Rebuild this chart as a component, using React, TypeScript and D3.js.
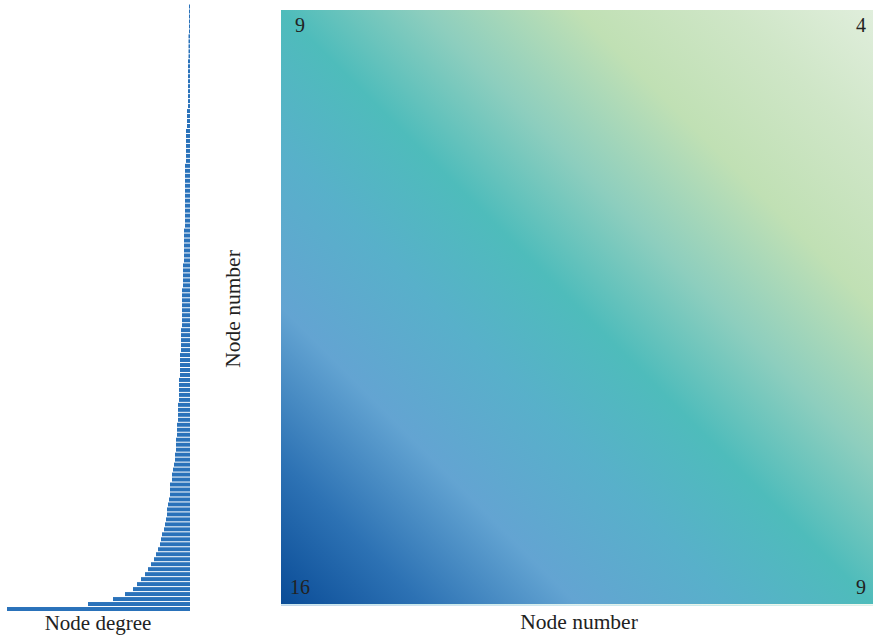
import React from "react";
import * as d3 from "d3";

// Node degrees, sorted (top row -> bottom row)
const degrees: number[] = [
  1, 1, 1, 1, 1, 1,
  1.5, 1.5, 1.5, 1.5, 1.5,
  2, 2, 2, 2, 2, 2, 2, 2, 2, 2,
  3, 3, 3, 3,
  4, 4, 4, 4, 4, 4, 4,
  5, 5, 5, 5, 5, 5, 5, 5, 5, 5, 5, 5, 5,
  6, 6, 6, 6, 6, 6, 6,
  7, 7, 7, 7, 7,
  8, 8, 8, 8, 8, 8, 8, 8,
  9, 9, 9, 9, 9,
  10, 10, 10, 10, 10,
  11, 11, 11, 11, 11,
  12, 12, 12, 12,
  13, 13, 13,
  14, 14, 14,
  15, 15,
  16,
  17, 18, 18,
  20, 20, 20, 21,
  22, 23, 23,
  24, 25, 26, 28, 29, 30, 32, 34, 36, 39, 42, 45, 49, 53, 57, 65, 77, 102, 183,
];

// Corner values of the node-number matrix
const cornerLabels = [
  { pos: "tl", value: "9" },
  { pos: "tr", value: "4" },
  { pos: "bl", value: "16" },
  { pos: "br", value: "9" },
];

// Colour ramp along the anti-diagonal (high value -> low value)
const rampStops: [number, string][] = [
  [0, "#0a4c97"],
  [0.12, "#2d72b4"],
  [0.25, "#63a4d2"],
  [0.38, "#58b0ca"],
  [0.5, "#4ebcbb"],
  [0.62, "#8dcebe"],
  [0.75, "#c0e0b4"],
  [0.88, "#cfe6c7"],
  [1, "#e0eedc"],
];

const W = 873;
const H = 636;
const font = "'Liberation Serif', 'DejaVu Serif', serif";

export default function App() {
  const barRight = 190;
  const x = d3.scaleLinear().domain([0, d3.max(degrees)!]).range([barRight, 7]);
  const y = d3
    .scaleBand<number>()
    .domain(degrees.map((_, i) => i))
    .range([4.5, 611])
    .paddingInner(0.2)
    .paddingOuter(0);

  const hm = { x0: 281, y0: 10, x1: 873, y1: 604 };

  const labelPos = (p: string) => {
    switch (p) {
      case "tl":
        return { x: hm.x0 + 19, y: hm.y0 + 22 };
      case "tr":
        return { x: hm.x1 - 12, y: hm.y0 + 22 };
      case "bl":
        return { x: hm.x0 + 19, y: hm.y1 - 10 };
      default:
        return { x: hm.x1 - 12, y: hm.y1 - 10 };
    }
  };

  return (
    <svg
      width={W}
      height={H}
      style={{ position: "absolute", left: 0, top: 0, background: "#fff" }}
    >
      <defs>
        <linearGradient id="ramp" x1="0" y1="1" x2="1" y2="0">
          {rampStops.map(([o, c], i) => (
            <stop key={i} offset={o} stopColor={c} />
          ))}
        </linearGradient>
      </defs>

      {/* degree bars */}
      <g>
        {degrees.map((d, i) => (
          <rect
            key={i}
            x={x(d)}
            y={y(i)}
            width={barRight - x(d)}
            height={y.bandwidth()}
            fill="#2a72ba"
          />
        ))}
      </g>
      <text
        x={98}
        y={630}
        textAnchor="middle"
        fontFamily={font}
        fontSize={21}
        fill="#222"
      >
        Node degree
      </text>

      {/* heatmap */}
      <rect
        x={hm.x0}
        y={hm.y0}
        width={hm.x1 - hm.x0}
        height={hm.y1 - hm.y0}
        fill="url(#ramp)"
      />
      <rect
        x={hm.x0}
        y={hm.y1}
        width={hm.x1 - hm.x0}
        height={2}
        fill="url(#ramp)"
        opacity={0.3}
      />
      {cornerLabels.map((c) => {
        const p = labelPos(c.pos);
        return (
          <text
            key={c.pos}
            x={p.x}
            y={p.y}
            textAnchor="middle"
            fontFamily={font}
            fontSize={20}
            fill="#222"
          >
            {c.value}
          </text>
        );
      })}
      <text
        x={579}
        y={629}
        textAnchor="middle"
        fontFamily={font}
        fontSize={21.5}
        fill="#222"
      >
        Node number
      </text>
      <text
        transform={`translate(240, 309) rotate(-90)`}
        textAnchor="middle"
        fontFamily={font}
        fontSize={21.5}
        fill="#222"
      >
        Node number
      </text>
    </svg>
  );
}
